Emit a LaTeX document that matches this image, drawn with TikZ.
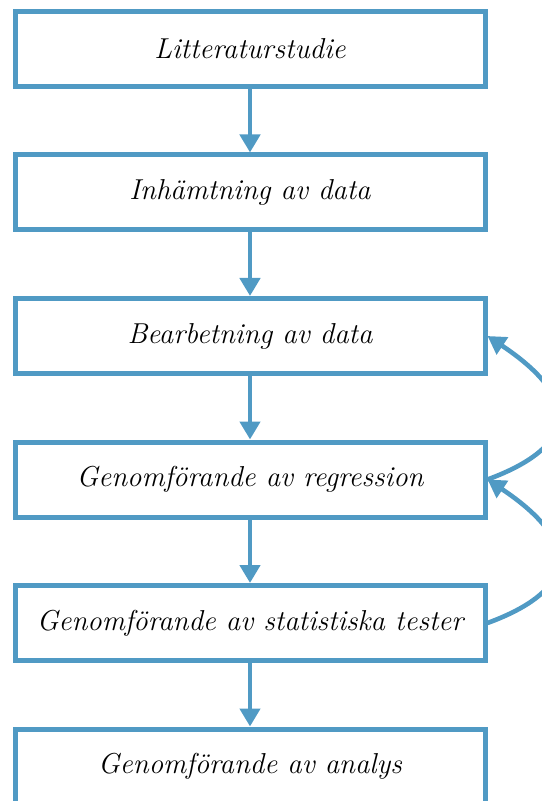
\documentclass[tikz,border=0pt]{standalone}
\usepackage{tikz}
\usetikzlibrary{arrows.meta}
\definecolor{flowblue}{RGB}{80,154,196}

\begin{document}
\begin{tikzpicture}[x=0.5pt,y=-0.5pt]
  \tikzset{
    stage/.style={draw=flowblue, line width=2.5pt, minimum width=235pt, minimum height=37.5pt, inner sep=0pt, font=\Large\itshape},
    flow/.style={draw=flowblue, line width=2.3pt, -{Triangle[width=10pt,length=9pt]}}
  }
  \useasboundingbox (0,0) rectangle (541,801);
  \node[stage] (lit) at (250,49) {Litteraturstudie};
  \node[stage] (inh) at (250,192.5) {Inhämtning av data};
  \node[stage] (bearb) at (250,336) {Bearbetning av data};
  \node[stage] (regr) at (250,479.5) {Genomförande av regression};
  \node[stage] (tester) at (250,623) {Genomförande av statistiska tester};
  \node[stage] (analys) at (250,766.5) {Genomförande av analys};
  \draw[flow] (lit) -- (inh);
  \draw[flow] (inh) -- (bearb);
  \draw[flow] (bearb) -- (regr);
  \draw[flow] (regr) -- (tester);
  \draw[flow] (tester) -- (analys);
  % loops back up
  \draw[flow] (regr.east) .. controls +(95,-35) and +(90,60) .. (bearb.east);
  \draw[flow] (tester.east) .. controls +(95,-35) and +(90,60) .. (regr.east);
\end{tikzpicture}
\end{document}
